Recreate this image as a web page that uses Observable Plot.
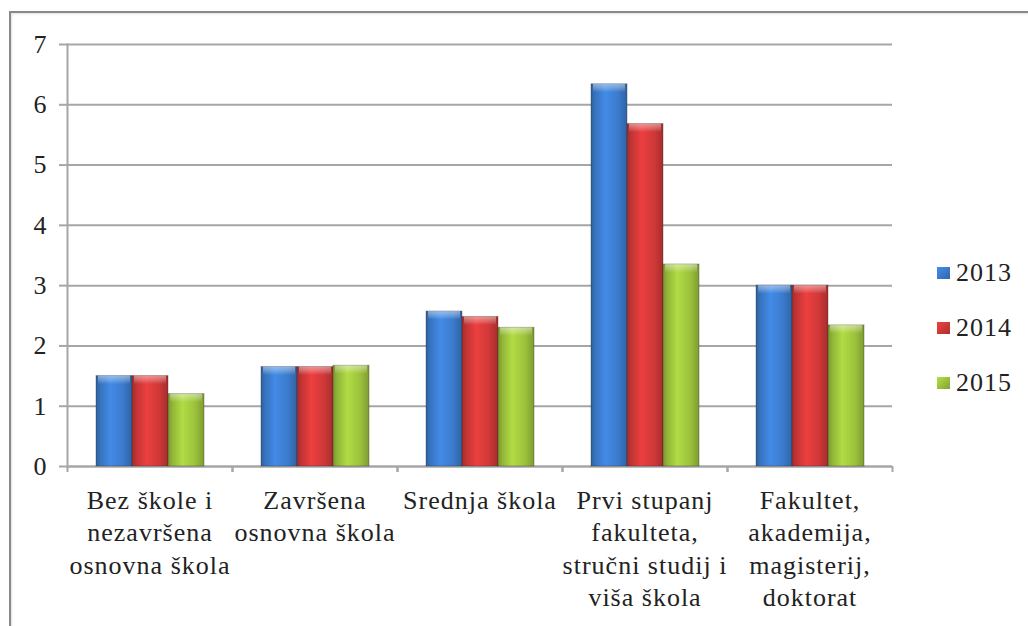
<!DOCTYPE html>
<html><head><meta charset="utf-8">
<script src="https://cdn.jsdelivr.net/npm/d3@7"></script>
<script src="https://cdn.jsdelivr.net/npm/@observablehq/plot@0.6"></script>
<style>
body{margin:0;background:#fff;width:1028px;height:626px;overflow:hidden;position:relative;font-family:"Liberation Serif",serif;}
#frame{position:absolute;left:9px;top:11px;width:1040px;height:640px;border-top:2px solid #8a8a8a;border-left:2px solid #8a8a8a;box-shadow:inset 1px 1px 2px rgba(0,0,0,0.12);}
#chart{position:absolute;left:0;top:0;}
#legend{position:absolute;left:937px;top:245px;}
.item{height:55px;display:flex;align-items:center;letter-spacing:1px;color:#222;font-family:"Liberation Serif",serif;}
.sw{width:13px;height:12px;margin-right:6px;}
</style></head><body>
<div id="frame"></div><div id="chart"></div><div id="legend"></div>
<script>
const categories = [
  "Bez škole i\nnezavršena\nosnovna škola",
  "Završena\nosnovna škola",
  "Srednja škola",
  "Prvi stupanj\nfakulteta,\nstručni studij i\nviša škola",
  "Fakultet,\nakademija,\nmagisterij,\ndoktorat"
];
const years = ["2013", "2014", "2015"];
const values2013 = [1.5, 1.65, 2.57, 6.34, 3.0];
const values2014 = [1.5, 1.65, 2.48, 5.68, 3.0];
const values2015 = [1.2, 1.67, 2.30, 3.35, 2.34];
const yTicks = [0, 1, 2, 3, 4, 5, 6, 7];
const seriesColors = ["#3b7bcc", "#d03838", "#9cc23c"];

const seriesValues = [values2013, values2014, values2015];
const data = categories.flatMap((c, i) => years.map((y, j) => ({cat: c, year: y, v: seriesValues[j][i]})));

const serif = '"Liberation Serif", serif';

// find a font size at which the serif face is really used (checked by its text width)
function pickSize(target) {
  const span = document.createElement("span");
  span.style.cssText = "position:absolute;left:-2000px;top:0;visibility:hidden;white-space:nowrap;letter-spacing:0;font-family:" + serif;
  span.textContent = "Bez škole i";
  document.body.appendChild(span);
  let chosen = target;
  for (let k = 0; k < 60; k++) {
    const s = +(target + (k % 2 ? 1 : -1) * Math.ceil(k / 2) * 0.011).toFixed(3);
    span.style.fontSize = s + "px";
    const w = span.getBoundingClientRect().width;
    if (w / s < 4.75) { chosen = s; break; }
  }
  span.remove();
  return chosen;
}
const fs = pickSize(26);

const gridColor = "#a6a6a6";
const plot = Plot.plot({
  width: 1028, height: 626,
  marginLeft: 67, marginRight: 136, marginTop: 44, marginBottom: 160,
  style: {fontFamily: serif, fontSize: fs + "px", color: "#222", background: "transparent", overflow: "visible"},
  fx: {domain: categories, padding: 0, label: null},
  x: {domain: years, paddingInner: 0, paddingOuter: 0.73, axis: null},
  y: {domain: [0, 7], axis: null},
  color: {domain: years, range: years.map(y => `url(#grad${y})`)},
  marks: [
    Plot.gridY(yTicks, {stroke: gridColor, strokeOpacity: 1, strokeWidth: 2}),
    Plot.ruleY([0], {stroke: gridColor, strokeWidth: 2}),
    Plot.barY(data, {fx: "cat", x: "year", y: "v", fill: "year", stroke: "rgba(40,40,40,0.35)", strokeWidth: 1}),
    Plot.barY(data, {fx: "cat", x: "year", y1: d => d.v - 0.14, y2: "v", fill: "url(#cap)", insetLeft: 2, insetRight: 2}),
    Plot.frame({anchor: "left", facetAnchor: "left", stroke: gridColor, strokeWidth: 2}),
    Plot.axisY(yTicks, {tickSize: 8, tickPadding: 13, stroke: gridColor, strokeWidth: 2, fontSize: fs, fontFamily: serif, tickFormat: d => String(d), label: null}),
    Plot.axisFx({anchor: "bottom", tickSize: 0, tickPadding: 19, lineHeight: 1.25, fontSize: fs, fontFamily: serif, label: null}),
    Plot.axisFx({anchor: "bottom", tickSize: 6, text: null, dx: -82.5, stroke: gridColor, strokeWidth: 2, label: null}),
    Plot.axisFx([categories[categories.length - 1]], {anchor: "bottom", tickSize: 6, text: null, dx: 82.5, stroke: gridColor, strokeWidth: 2, label: null})
  ]
});

const defs = d3.select(plot).insert("defs", ":first-child");
years.forEach((y, j) => {
  const base = d3.color(seriesColors[j]);
  const g = defs.append("linearGradient").attr("id", `grad${y}`).attr("x1", "0").attr("x2", "1").attr("y1", "0").attr("y2", "0");
  [[0, base.darker(0.7)], [0.12, base.darker(0.2)], [0.4, base.brighter(0.35)], [0.75, base], [1, base.darker(0.6)]]
    .forEach(([o, c]) => g.append("stop").attr("offset", o).attr("stop-color", c.formatHex()));
});
const cap = defs.append("linearGradient").attr("id", "cap").attr("x1", "0").attr("x2", "0").attr("y1", "0").attr("y2", "1");
cap.append("stop").attr("offset", 0).attr("stop-color", "#fff").attr("stop-opacity", 0.45);
cap.append("stop").attr("offset", 0.5).attr("stop-color", "#fff").attr("stop-opacity", 0.25);
cap.append("stop").attr("offset", 1).attr("stop-color", "#fff").attr("stop-opacity", 0);

document.getElementById("chart").appendChild(plot);
d3.select(plot).selectAll("[aria-label='fx-axis tick label'] text").style("letter-spacing", "1px");

const legend = d3.select("#legend");
years.forEach((y, j) => {
  const base = d3.color(seriesColors[j]);
  const it = legend.append("div").attr("class", "item").style("font-size", fs + "px");
  it.append("div").attr("class", "sw").style("background", `linear-gradient(135deg, ${base.brighter(0.4).formatHex()}, ${base.darker(0.5).formatHex()})`);
  it.append("span").text(y);
});
</script>
</body></html>
